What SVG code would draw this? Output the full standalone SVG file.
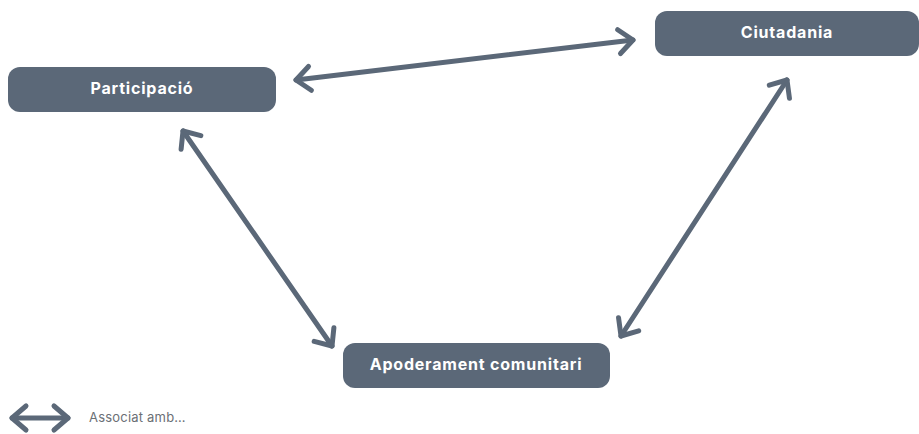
<svg xmlns="http://www.w3.org/2000/svg" width="919" height="434" viewBox="0 0 919 434">
  <style>
    .node rect { fill: #5b6878; }
    .node text { fill: #ffffff; font-family: "Inter", "Liberation Sans", sans-serif; font-weight: 700; font-size: 16px; letter-spacing: 0.8px; text-anchor: middle; }
    .link { stroke: #5b6878; stroke-width: 5; fill: none; stroke-linecap: round; marker-start: url(#head); marker-end: url(#head); }
    .legend-text { fill: #6b6f75; font-family: "Inter", "Liberation Sans", sans-serif; font-size: 13px; letter-spacing: 0.2px; }
  </style>
  <defs>
    <marker id="head" markerUnits="userSpaceOnUse" viewBox="-20 -16 24 32" refX="0" refY="0" markerWidth="24" markerHeight="32" orient="auto-start-reverse" overflow="visible">
      <path d="M-14,-12 L0,0 L-14,12" fill="none" stroke="#5b6878" stroke-width="5" stroke-linecap="round" stroke-linejoin="round"/>
    </marker>
  </defs>

  <g id="connectors">
    <line class="link" x1="296" y1="80" x2="633" y2="40"/>
    <line class="link" x1="183" y1="131" x2="332" y2="346"/>
    <line class="link" x1="621" y1="336" x2="787" y2="80"/>
  </g>

  <g id="participacio" class="node">
    <rect x="8" y="67" width="268" height="45" rx="12"/>
    <text x="142" y="94">Participació</text>
  </g>
  <g id="ciutadania" class="node">
    <rect x="655" y="11" width="264" height="45" rx="12"/>
    <text x="787" y="38">Ciutadania</text>
  </g>
  <g id="apoderament" class="node">
    <rect x="343" y="343" width="267" height="45" rx="12"/>
    <text x="476" y="370">Apoderament comunitari</text>
  </g>

  <g id="legend">
    <line class="link" x1="12" y1="418" x2="68" y2="418"/>
    <text class="legend-text" x="89" y="422">Associat amb…</text>
  </g>
</svg>
